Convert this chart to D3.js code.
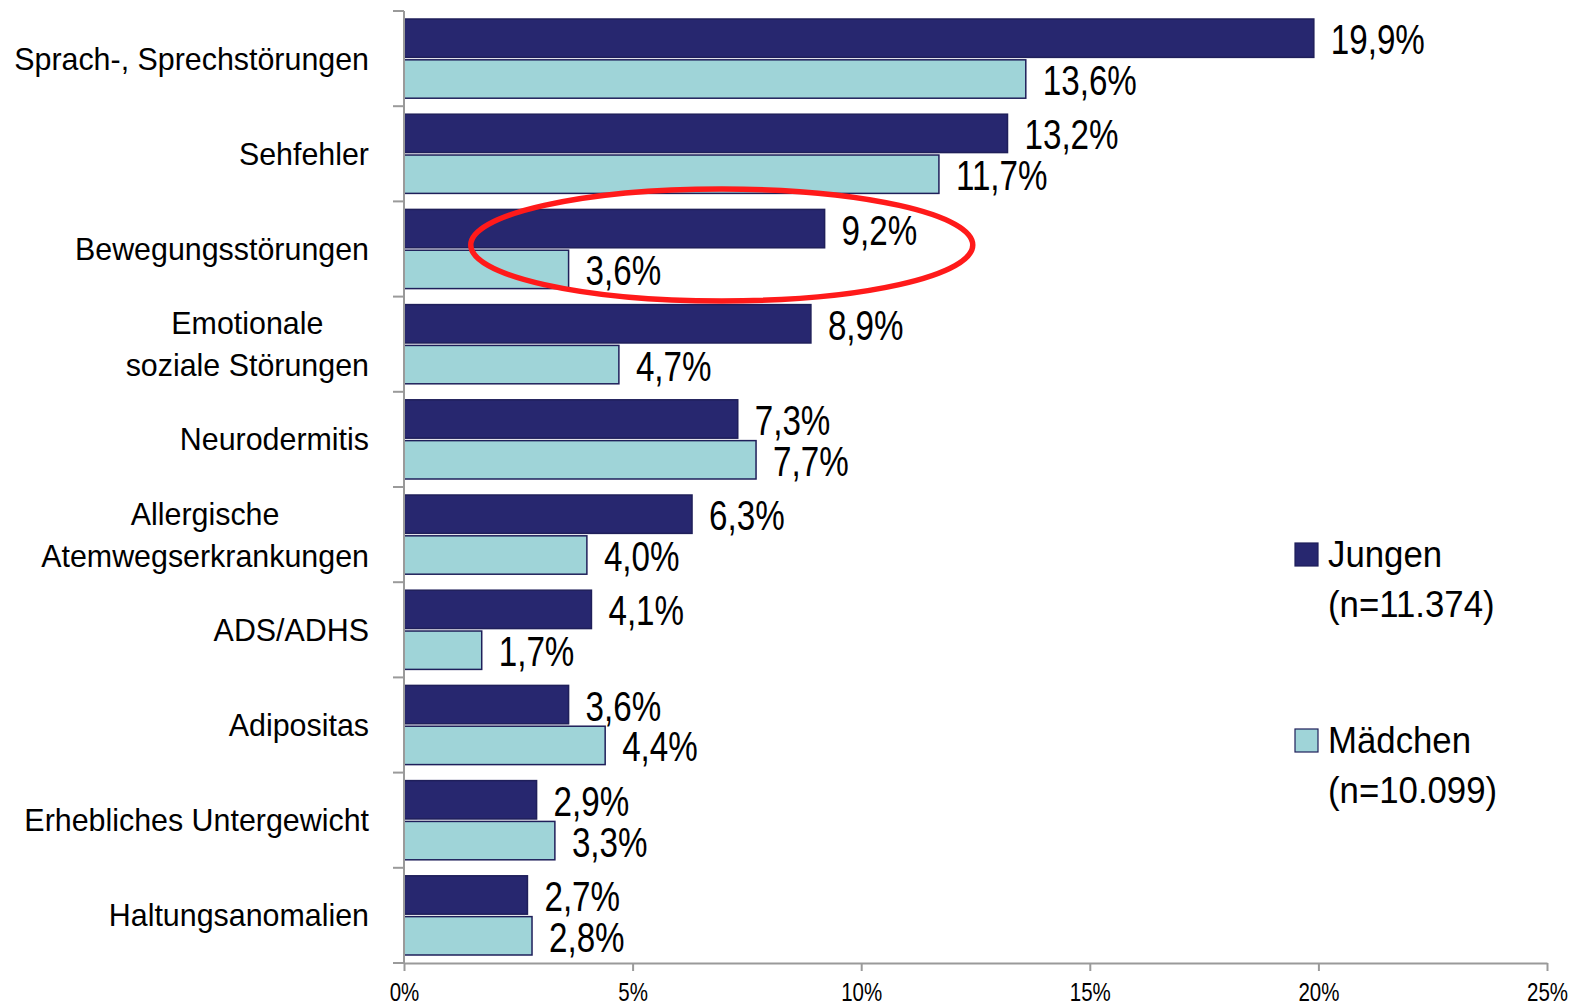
<!DOCTYPE html>
<html>
<head>
<meta charset="utf-8">
<script src="https://cdn.jsdelivr.net/npm/d3@7"></script>
<style>
  body { margin: 0; background: #fff; }
  text { font-family: "Liberation Sans", Arial, sans-serif; fill: #000; }
</style>
</head>
<body>
<div id="chart"></div>
<script>
// data
var categories = [
  "Sprach-, Sprechstörungen",
  "Sehfehler",
  "Bewegungsstörungen",
  "Emotionale\nsoziale Störungen",
  "Neurodermitis",
  "Allergische\nAtemwegserkrankungen",
  "ADS/ADHS",
  "Adipositas",
  "Erhebliches Untergewicht",
  "Haltungsanomalien"
];
var jungen = [19.9, 13.2, 9.2, 8.9, 7.3, 6.3, 4.1, 3.6, 2.9, 2.7];
var maedchen = [13.6, 11.7, 3.6, 4.7, 7.7, 4.0, 1.7, 4.4, 3.3, 2.8];
var seriesNames = ["Jungen", "Mädchen"];
var seriesNotes = ["(n=11.374)", "(n=10.099)"];
var xTicks = [0, 5, 10, 15, 20, 25];

var svgWidth = 1577;
var svgHeight = 1007;
var margin = { top: 11, right: 30, bottom: 44, left: 404 };
var width = 1547 - margin.left;
var height = 963 - margin.top;

var colors = ["#27276f", "#9fd4d8"];
var axisColor = "#9a9a9a";

// the original uses a narrow font, so squeeze the text sideways
function narrowText(sel, x, y, size, sx, str) {
  return sel.append("text")
    .attr("transform", `translate(${x}, ${y}) scale(${sx}, 1)`)
    .style("font-size", size + "px")
    .text(str);
}

var svg = d3.select("#chart")
  .append("svg")
  .attr("width", svgWidth)
  .attr("height", svgHeight);

var chartGroup = svg.append("g")
  .attr("transform", `translate(${margin.left}, ${margin.top})`);

var xScale = d3.scaleLinear()
  .domain([0, 25])
  .range([0, width]);

var yScale = d3.scaleBand()
  .domain(categories)
  .range([0, height]);

var subScale = d3.scaleBand()
  .domain(seriesNames)
  .range([8, yScale.bandwidth() - 8])
  .paddingInner(0.06);

var rows = categories.map(function(c, i) {
  return { cat: c, values: [jungen[i], maedchen[i]] };
});

// bars
var groups = chartGroup.selectAll(".grp")
  .data(rows)
  .enter()
  .append("g")
  .attr("class", "grp")
  .attr("transform", d => `translate(0, ${yScale(d.cat)})`);

groups.selectAll("rect")
  .data(d => d.values.map((v, i) => ({ v: v, s: seriesNames[i], i: i })))
  .enter()
  .append("rect")
  .attr("x", 0)
  .attr("y", d => subScale(d.s))
  .attr("width", d => xScale(d.v))
  .attr("height", subScale.bandwidth())
  .attr("fill", d => colors[d.i])
  .attr("stroke", "#1f1f5a")
  .attr("stroke-width", 1.5);

groups.each(function(d) {
  var g = d3.select(this);
  d.values.forEach(function(v, i) {
    var s = seriesNames[i];
    narrowText(g, xScale(v) + 17, subScale(s) + subScale.bandwidth() / 2 + 16,
      42, 0.79, v.toFixed(1).replace(".", ",") + "%");
  });
});

// x axis
var xAxisG = chartGroup.append("g")
  .attr("transform", `translate(0, ${height})`)
  .call(d3.axisBottom(xScale).tickValues(xTicks).tickSize(8).tickSizeOuter(0).tickFormat(d => d + "%"));
xAxisG.select(".domain").attr("stroke", axisColor).attr("stroke-width", 2);
xAxisG.selectAll(".tick line").attr("stroke", axisColor).attr("stroke-width", 2);
xAxisG.selectAll(".tick text")
  .attr("y", 20)
  .attr("transform", "scale(0.82, 1)")
  .style("font-size", "25px")
  .attr("fill", "#000");

// y axis: line and ticks between categories
var yBounds = categories.map(c => yScale(c)).concat([height]);
chartGroup.append("line")
  .attr("x1", 0).attr("x2", 0)
  .attr("y1", 0).attr("y2", height)
  .attr("stroke", axisColor)
  .attr("stroke-width", 2);
chartGroup.selectAll(".ytick")
  .data(yBounds)
  .enter()
  .append("line")
  .attr("class", "ytick")
  .attr("x1", -11).attr("x2", 0)
  .attr("y1", d => d).attr("y2", d => d)
  .attr("stroke", axisColor)
  .attr("stroke-width", 2);

// category labels, multi-line ones centred on each other
var labelRight = -35;
var catSize = 32, catSx = 0.95, lineH = 42;
categories.forEach(function(c) {
  var lines = c.split("\n");
  var cy = yScale(c) + yScale.bandwidth() / 2;
  var tmp = lines.map(l => narrowText(chartGroup, 0, 0, catSize, 1, l));
  var maxW = d3.max(tmp, t => t.node().getComputedTextLength()) * catSx;
  tmp.forEach(function(t, k) {
    var y = cy + (k - (lines.length - 1) / 2) * lineH + 11;
    if (lines.length > 1) {
      t.attr("text-anchor", "middle")
        .attr("transform", `translate(${labelRight - maxW / 2}, ${y}) scale(${catSx}, 1)`);
    } else {
      t.attr("text-anchor", "end")
        .attr("transform", `translate(${labelRight}, ${y}) scale(${catSx}, 1)`);
    }
  });
});

// legend
var legend = svg.append("g")
  .attr("transform", "translate(1295, 0)");
var legendY = [543, 729];
seriesNames.forEach(function(s, i) {
  legend.append("rect")
    .attr("x", 0)
    .attr("y", legendY[i])
    .attr("width", 23)
    .attr("height", 23)
    .attr("fill", colors[i])
    .attr("stroke", "#1f1f5a")
    .attr("stroke-width", 1.2);
  narrowText(legend, 33, legendY[i] + 24, 37, 0.94, s);
  narrowText(legend, 33, legendY[i] + 74, 37, 0.94, seriesNotes[i]);
});

// red ellipse around Bewegungsstörungen
var hl = categories[2];
chartGroup.append("ellipse")
  .attr("cx", xScale(6.95))
  .attr("cy", yScale(hl) + yScale.bandwidth() / 2 - 4)
  .attr("rx", 251)
  .attr("ry", 56)
  .attr("fill", "none")
  .attr("stroke", "#ff1a1a")
  .attr("stroke-width", 5.5);
</script>
</body>
</html>
